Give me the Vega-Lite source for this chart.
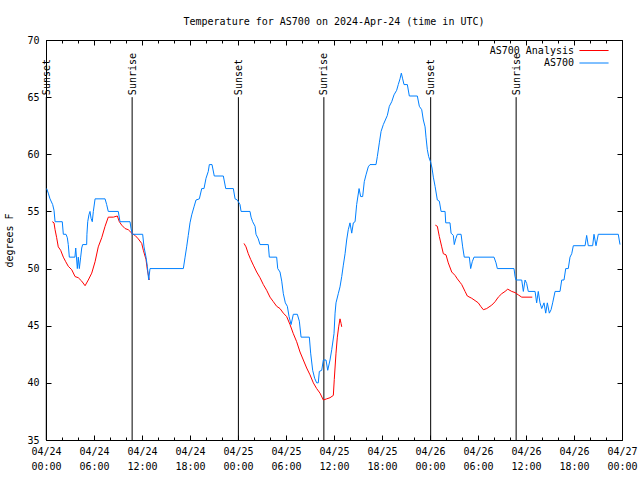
{
"$schema": "https://vega.github.io/schema/vega-lite/v6.json",
"width": 576, "height": 400,
"autosize": {"type": "none"},
"padding": {"left": 46, "top": 40, "right": 18, "bottom": 40},
"background": "white",
"title": {"text": "Temperature for AS700 on 2024-Apr-24 (time in UTC)", "font": "DejaVu Sans Mono", "fontSize": 10, "fontWeight": "normal", "color": "black", "anchor": "middle", "frame": "group", "baseline": "alphabetic", "offset": 15, "dy": 15},
"config": {
 "font": "DejaVu Sans Mono",
 "view": {"stroke": "black", "strokeWidth": 1},
 "axis": {"labelFont": "DejaVu Sans Mono", "labelFontSize": 10, "labelColor": "black", "tickColor": "black", "tickWidth": 1, "domain": false, "grid": false, "titleFont": "DejaVu Sans Mono", "titleFontSize": 10, "titleFontWeight": "normal", "titleColor": "black"}
},
"datasets": {
"obs": [
{"t":"2024-04-24T00:05:00Z","v":57.0},{"t":"2024-04-24T00:17:00Z","v":56.6},{"t":"2024-04-24T00:30:00Z","v":56.1},{"t":"2024-04-24T00:50:00Z","v":55.6},{"t":"2024-04-24T01:00:00Z","v":55.1},{"t":"2024-04-24T01:08:00Z","v":54.1},{"t":"2024-04-24T02:02:00Z","v":54.1},{"t":"2024-04-24T02:10:00Z","v":53.0},{"t":"2024-04-24T02:30:00Z","v":53.0},{"t":"2024-04-24T02:40:00Z","v":52.7},{"t":"2024-04-24T02:47:00Z","v":52.1},{"t":"2024-04-24T02:55:00Z","v":51.0},{"t":"2024-04-24T03:37:00Z","v":51.0},{"t":"2024-04-24T03:43:00Z","v":51.8},{"t":"2024-04-24T03:55:00Z","v":50.0},{"t":"2024-04-24T04:02:00Z","v":51.0},{"t":"2024-04-24T04:10:00Z","v":50.0},{"t":"2024-04-24T04:20:00Z","v":51.0},{"t":"2024-04-24T04:28:00Z","v":51.8},{"t":"2024-04-24T04:35:00Z","v":52.1},{"t":"2024-04-24T05:05:00Z","v":52.1},{"t":"2024-04-24T05:07:00Z","v":53.0},{"t":"2024-04-24T05:13:00Z","v":54.1},{"t":"2024-04-24T05:22:00Z","v":54.7},{"t":"2024-04-24T05:30:00Z","v":55.0},{"t":"2024-04-24T05:38:00Z","v":54.4},{"t":"2024-04-24T05:47:00Z","v":54.1},{"t":"2024-04-24T05:55:00Z","v":55.0},{"t":"2024-04-24T06:08:00Z","v":56.1},{"t":"2024-04-24T07:23:00Z","v":56.1},{"t":"2024-04-24T07:35:00Z","v":55.6},{"t":"2024-04-24T07:47:00Z","v":55.0},{"t":"2024-04-24T09:02:00Z","v":55.0},{"t":"2024-04-24T09:15:00Z","v":54.1},{"t":"2024-04-24T10:30:00Z","v":54.1},{"t":"2024-04-24T10:38:00Z","v":53.5},{"t":"2024-04-24T10:47:00Z","v":53.0},{"t":"2024-04-24T12:05:00Z","v":53.0},{"t":"2024-04-24T12:15:00Z","v":51.9},{"t":"2024-04-24T12:30:00Z","v":51.0},{"t":"2024-04-24T12:40:00Z","v":50.2},{"t":"2024-04-24T12:50:00Z","v":49.0},{"t":"2024-04-24T13:00:00Z","v":50.0},{"t":"2024-04-24T17:10:00Z","v":50.0},{"t":"2024-04-24T17:23:00Z","v":51.0},{"t":"2024-04-24T17:35:00Z","v":51.9},{"t":"2024-04-24T17:47:00Z","v":52.9},{"t":"2024-04-24T18:00:00Z","v":54.0},{"t":"2024-04-24T18:13:00Z","v":54.7},{"t":"2024-04-24T18:30:00Z","v":55.4},{"t":"2024-04-24T18:45:00Z","v":56.0},{"t":"2024-04-24T19:10:00Z","v":56.1},{"t":"2024-04-24T19:28:00Z","v":57.0},{"t":"2024-04-24T19:45:00Z","v":57.0},{"t":"2024-04-24T20:00:00Z","v":57.9},{"t":"2024-04-24T20:17:00Z","v":58.5},{"t":"2024-04-24T20:25:00Z","v":59.1},{"t":"2024-04-24T20:45:00Z","v":59.1},{"t":"2024-04-24T21:02:00Z","v":58.1},{"t":"2024-04-24T22:10:00Z","v":58.1},{"t":"2024-04-24T22:28:00Z","v":57.0},{"t":"2024-04-24T23:25:00Z","v":57.0},{"t":"2024-04-24T23:38:00Z","v":56.1},{"t":"2024-04-24T23:55:00Z","v":56.0},
{"t":"2024-04-25T00:15:00Z","v":55.6},{"t":"2024-04-25T00:23:00Z","v":55.0},{"t":"2024-04-25T01:30:00Z","v":55.0},{"t":"2024-04-25T01:38:00Z","v":54.5},{"t":"2024-04-25T01:50:00Z","v":54.1},{"t":"2024-04-25T02:08:00Z","v":53.7},{"t":"2024-04-25T02:15:00Z","v":53.0},{"t":"2024-04-25T02:32:00Z","v":52.6},{"t":"2024-04-25T02:45:00Z","v":52.1},{"t":"2024-04-25T03:47:00Z","v":52.1},{"t":"2024-04-25T03:55:00Z","v":51.0},{"t":"2024-04-25T04:50:00Z","v":51.0},{"t":"2024-04-25T04:58:00Z","v":50.0},{"t":"2024-04-25T05:15:00Z","v":49.7},{"t":"2024-04-25T05:28:00Z","v":48.9},{"t":"2024-04-25T05:40:00Z","v":47.8},{"t":"2024-04-25T05:55:00Z","v":47.0},{"t":"2024-04-25T06:10:00Z","v":46.7},{"t":"2024-04-25T06:23:00Z","v":45.8},{"t":"2024-04-25T06:38:00Z","v":45.1},{"t":"2024-04-25T06:55:00Z","v":46.0},{"t":"2024-04-25T07:25:00Z","v":46.0},{"t":"2024-04-25T07:40:00Z","v":45.4},{"t":"2024-04-25T07:53:00Z","v":44.0},{"t":"2024-04-25T08:55:00Z","v":44.0},{"t":"2024-04-25T09:05:00Z","v":42.6},{"t":"2024-04-25T09:20:00Z","v":41.1},{"t":"2024-04-25T09:35:00Z","v":40.4},{"t":"2024-04-25T09:50:00Z","v":40.0},{"t":"2024-04-25T10:02:00Z","v":40.0},{"t":"2024-04-25T10:10:00Z","v":41.0},{"t":"2024-04-25T10:28:00Z","v":41.1},{"t":"2024-04-25T10:40:00Z","v":42.0},{"t":"2024-04-25T11:00:00Z","v":42.0},{"t":"2024-04-25T11:13:00Z","v":41.1},{"t":"2024-04-25T11:30:00Z","v":42.0},{"t":"2024-04-25T11:43:00Z","v":42.9},{"t":"2024-04-25T12:00:00Z","v":44.3},{"t":"2024-04-25T12:08:00Z","v":46.1},{"t":"2024-04-25T12:15:00Z","v":47.0},{"t":"2024-04-25T12:32:00Z","v":47.8},{"t":"2024-04-25T12:45:00Z","v":48.4},{"t":"2024-04-25T12:58:00Z","v":49.3},{"t":"2024-04-25T13:10:00Z","v":50.3},{"t":"2024-04-25T13:23:00Z","v":51.3},{"t":"2024-04-25T13:35:00Z","v":52.5},{"t":"2024-04-25T13:47:00Z","v":53.4},{"t":"2024-04-25T14:00:00Z","v":54.0},{"t":"2024-04-25T14:13:00Z","v":53.1},{"t":"2024-04-25T14:25:00Z","v":54.0},{"t":"2024-04-25T14:38:00Z","v":54.1},{"t":"2024-04-25T14:50:00Z","v":55.6},{"t":"2024-04-25T15:08:00Z","v":57.0},{"t":"2024-04-25T15:20:00Z","v":56.3},{"t":"2024-04-25T15:35:00Z","v":56.3},{"t":"2024-04-25T15:47:00Z","v":57.6},{"t":"2024-04-25T16:00:00Z","v":58.2},{"t":"2024-04-25T16:17:00Z","v":58.9},{"t":"2024-04-25T16:30:00Z","v":59.1},{"t":"2024-04-25T17:15:00Z","v":59.1},{"t":"2024-04-25T17:25:00Z","v":59.8},{"t":"2024-04-25T17:40:00Z","v":61.0},{"t":"2024-04-25T17:53:00Z","v":62.0},{"t":"2024-04-25T18:10:00Z","v":62.6},{"t":"2024-04-25T18:25:00Z","v":63.0},{"t":"2024-04-25T18:40:00Z","v":63.4},{"t":"2024-04-25T18:55:00Z","v":64.2},{"t":"2024-04-25T19:13:00Z","v":64.6},{"t":"2024-04-25T19:30:00Z","v":65.2},{"t":"2024-04-25T19:50:00Z","v":65.6},{"t":"2024-04-25T20:02:00Z","v":66.1},{"t":"2024-04-25T20:15:00Z","v":66.6},{"t":"2024-04-25T20:25:00Z","v":67.1},{"t":"2024-04-25T20:35:00Z","v":66.6},{"t":"2024-04-25T20:45:00Z","v":66.1},{"t":"2024-04-25T21:10:00Z","v":66.1},{"t":"2024-04-25T21:25:00Z","v":65.1},{"t":"2024-04-25T22:25:00Z","v":65.1},{"t":"2024-04-25T22:40:00Z","v":64.2},{"t":"2024-04-25T22:58:00Z","v":63.9},{"t":"2024-04-25T23:10:00Z","v":63.0},{"t":"2024-04-25T23:23:00Z","v":62.4},{"t":"2024-04-25T23:30:00Z","v":61.5},{"t":"2024-04-25T23:40:00Z","v":60.4},{"t":"2024-04-25T23:50:00Z","v":59.8},
{"t":"2024-04-26T00:05:00Z","v":59.3},{"t":"2024-04-26T00:15:00Z","v":58.8},{"t":"2024-04-26T00:25:00Z","v":58.0},{"t":"2024-04-26T00:38:00Z","v":57.2},{"t":"2024-04-26T00:55:00Z","v":56.0},{"t":"2024-04-26T01:10:00Z","v":55.9},{"t":"2024-04-26T01:23:00Z","v":55.0},{"t":"2024-04-26T01:53:00Z","v":55.0},{"t":"2024-04-26T01:58:00Z","v":54.0},{"t":"2024-04-26T02:30:00Z","v":54.0},{"t":"2024-04-26T02:38:00Z","v":53.1},{"t":"2024-04-26T02:55:00Z","v":52.9},{"t":"2024-04-26T03:02:00Z","v":52.1},{"t":"2024-04-26T03:13:00Z","v":52.6},{"t":"2024-04-26T03:25:00Z","v":53.0},{"t":"2024-04-26T03:53:00Z","v":53.0},{"t":"2024-04-26T04:05:00Z","v":51.9},{"t":"2024-04-26T04:17:00Z","v":51.0},{"t":"2024-04-26T04:55:00Z","v":51.0},{"t":"2024-04-26T05:05:00Z","v":50.0},{"t":"2024-04-26T05:17:00Z","v":50.6},{"t":"2024-04-26T05:30:00Z","v":51.0},{"t":"2024-04-26T08:00:00Z","v":51.0},{"t":"2024-04-26T08:15:00Z","v":50.5},{"t":"2024-04-26T08:25:00Z","v":50.0},{"t":"2024-04-26T10:30:00Z","v":50.0},{"t":"2024-04-26T10:38:00Z","v":49.3},{"t":"2024-04-26T10:45:00Z","v":49.0},{"t":"2024-04-26T11:28:00Z","v":49.0},{"t":"2024-04-26T11:40:00Z","v":48.0},{"t":"2024-04-26T11:53:00Z","v":49.0},{"t":"2024-04-26T12:05:00Z","v":48.7},{"t":"2024-04-26T12:17:00Z","v":48.0},{"t":"2024-04-26T13:08:00Z","v":48.0},{"t":"2024-04-26T13:20:00Z","v":47.0},{"t":"2024-04-26T13:32:00Z","v":48.0},{"t":"2024-04-26T13:45:00Z","v":47.0},{"t":"2024-04-26T13:58:00Z","v":46.5},{"t":"2024-04-26T14:15:00Z","v":47.0},{"t":"2024-04-26T14:28:00Z","v":46.1},{"t":"2024-04-26T14:40:00Z","v":47.0},{"t":"2024-04-26T14:55:00Z","v":46.1},{"t":"2024-04-26T15:08:00Z","v":46.4},{"t":"2024-04-26T15:20:00Z","v":47.0},{"t":"2024-04-26T15:38:00Z","v":48.0},{"t":"2024-04-26T16:15:00Z","v":48.0},{"t":"2024-04-26T16:28:00Z","v":49.0},{"t":"2024-04-26T16:45:00Z","v":49.0},{"t":"2024-04-26T16:58:00Z","v":50.0},{"t":"2024-04-26T17:17:00Z","v":50.0},{"t":"2024-04-26T17:30:00Z","v":51.0},{"t":"2024-04-26T17:43:00Z","v":51.3},{"t":"2024-04-26T17:55:00Z","v":52.0},{"t":"2024-04-26T19:23:00Z","v":52.0},{"t":"2024-04-26T19:35:00Z","v":52.9},{"t":"2024-04-26T19:47:00Z","v":52.0},{"t":"2024-04-26T20:20:00Z","v":52.0},{"t":"2024-04-26T20:30:00Z","v":53.0},{"t":"2024-04-26T20:45:00Z","v":52.0},{"t":"2024-04-26T21:02:00Z","v":53.0},{"t":"2024-04-26T23:32:00Z","v":53.0},{"t":"2024-04-26T23:45:00Z","v":52.1}
],
"ana": [
{"t":"2024-04-24T00:47:00Z","v":54.1,"g":1},{"t":"2024-04-24T01:00:00Z","v":54.0,"g":1},{"t":"2024-04-24T01:08:00Z","v":53.4,"g":1},{"t":"2024-04-24T01:20:00Z","v":52.7,"g":1},{"t":"2024-04-24T01:32:00Z","v":51.9,"g":1},{"t":"2024-04-24T01:50:00Z","v":51.6,"g":1},{"t":"2024-04-24T02:10:00Z","v":51.0,"g":1},{"t":"2024-04-24T02:28:00Z","v":50.6,"g":1},{"t":"2024-04-24T02:47:00Z","v":50.2,"g":1},{"t":"2024-04-24T03:13:00Z","v":49.9,"g":1},{"t":"2024-04-24T03:38:00Z","v":49.3,"g":1},{"t":"2024-04-24T04:02:00Z","v":49.2,"g":1},{"t":"2024-04-24T04:28:00Z","v":48.9,"g":1},{"t":"2024-04-24T04:53:00Z","v":48.5,"g":1},{"t":"2024-04-24T05:17:00Z","v":49.0,"g":1},{"t":"2024-04-24T05:43:00Z","v":49.6,"g":1},{"t":"2024-04-24T06:08:00Z","v":50.6,"g":1},{"t":"2024-04-24T06:32:00Z","v":51.9,"g":1},{"t":"2024-04-24T06:58:00Z","v":52.7,"g":1},{"t":"2024-04-24T07:23:00Z","v":53.7,"g":1},{"t":"2024-04-24T07:47:00Z","v":54.5,"g":1},{"t":"2024-04-24T08:25:00Z","v":54.5,"g":1},{"t":"2024-04-24T08:55:00Z","v":54.6,"g":1},{"t":"2024-04-24T09:10:00Z","v":54.1,"g":1},{"t":"2024-04-24T09:28:00Z","v":53.8,"g":1},{"t":"2024-04-24T09:53:00Z","v":53.5,"g":1},{"t":"2024-04-24T10:17:00Z","v":53.4,"g":1},{"t":"2024-04-24T10:43:00Z","v":53.1,"g":1},{"t":"2024-04-24T11:08:00Z","v":52.9,"g":1},{"t":"2024-04-24T11:32:00Z","v":52.6,"g":1},{"t":"2024-04-24T11:58:00Z","v":52.2,"g":1},{"t":"2024-04-24T12:10:00Z","v":51.6,"g":1},{"t":"2024-04-24T12:30:00Z","v":50.8,"g":1},{"t":"2024-04-24T12:40:00Z","v":49.9,"g":1},{"t":"2024-04-24T12:50:00Z","v":49.3,"g":1},{"t":"2024-04-24T12:55:00Z","v":49.0,"g":1},
{"t":"2024-04-25T00:45:00Z","v":52.2,"g":2},{"t":"2024-04-25T01:00:00Z","v":51.9,"g":2},{"t":"2024-04-25T01:17:00Z","v":51.3,"g":2},{"t":"2024-04-25T01:35:00Z","v":50.8,"g":2},{"t":"2024-04-25T01:55:00Z","v":50.3,"g":2},{"t":"2024-04-25T02:20:00Z","v":49.7,"g":2},{"t":"2024-04-25T02:45:00Z","v":49.2,"g":2},{"t":"2024-04-25T03:10:00Z","v":48.6,"g":2},{"t":"2024-04-25T03:35:00Z","v":48.1,"g":2},{"t":"2024-04-25T04:00:00Z","v":47.5,"g":2},{"t":"2024-04-25T04:25:00Z","v":47.1,"g":2},{"t":"2024-04-25T04:50:00Z","v":46.7,"g":2},{"t":"2024-04-25T05:15:00Z","v":46.5,"g":2},{"t":"2024-04-25T05:40:00Z","v":46.1,"g":2},{"t":"2024-04-25T06:05:00Z","v":45.8,"g":2},{"t":"2024-04-25T06:30:00Z","v":45.1,"g":2},{"t":"2024-04-25T06:55:00Z","v":44.3,"g":2},{"t":"2024-04-25T07:20:00Z","v":43.6,"g":2},{"t":"2024-04-25T07:45:00Z","v":42.7,"g":2},{"t":"2024-04-25T08:10:00Z","v":42.0,"g":2},{"t":"2024-04-25T08:35:00Z","v":41.3,"g":2},{"t":"2024-04-25T09:00:00Z","v":40.7,"g":2},{"t":"2024-04-25T09:25:00Z","v":40.0,"g":2},{"t":"2024-04-25T09:50:00Z","v":39.5,"g":2},{"t":"2024-04-25T10:15:00Z","v":39.1,"g":2},{"t":"2024-04-25T10:40:00Z","v":38.5,"g":2},{"t":"2024-04-25T11:05:00Z","v":38.6,"g":2},{"t":"2024-04-25T11:30:00Z","v":38.7,"g":2},{"t":"2024-04-25T11:55:00Z","v":38.9,"g":2},{"t":"2024-04-25T12:02:00Z","v":40.3,"g":2},{"t":"2024-04-25T12:15:00Z","v":42.6,"g":2},{"t":"2024-04-25T12:25:00Z","v":44.0,"g":2},{"t":"2024-04-25T12:35:00Z","v":44.9,"g":2},{"t":"2024-04-25T12:45:00Z","v":45.6,"g":2},{"t":"2024-04-25T12:53:00Z","v":45.2,"g":2},{"t":"2024-04-25T12:58:00Z","v":44.9,"g":2},
{"t":"2024-04-26T00:40:00Z","v":53.8,"g":3},{"t":"2024-04-26T00:55:00Z","v":53.7,"g":3},{"t":"2024-04-26T01:10:00Z","v":52.8,"g":3},{"t":"2024-04-26T01:28:00Z","v":51.9,"g":3},{"t":"2024-04-26T01:40:00Z","v":51.3,"g":3},{"t":"2024-04-26T02:00:00Z","v":51.2,"g":3},{"t":"2024-04-26T02:17:00Z","v":50.5,"g":3},{"t":"2024-04-26T02:43:00Z","v":49.7,"g":3},{"t":"2024-04-26T03:08:00Z","v":49.4,"g":3},{"t":"2024-04-26T03:25:00Z","v":49.1,"g":3},{"t":"2024-04-26T03:45:00Z","v":48.8,"g":3},{"t":"2024-04-26T03:58:00Z","v":48.6,"g":3},{"t":"2024-04-26T04:23:00Z","v":48.0,"g":3},{"t":"2024-04-26T04:40:00Z","v":47.6,"g":3},{"t":"2024-04-26T05:13:00Z","v":47.4,"g":3},{"t":"2024-04-26T05:38:00Z","v":47.2,"g":3},{"t":"2024-04-26T06:02:00Z","v":47.0,"g":3},{"t":"2024-04-26T06:20:00Z","v":46.7,"g":3},{"t":"2024-04-26T06:40:00Z","v":46.4,"g":3},{"t":"2024-04-26T07:05:00Z","v":46.5,"g":3},{"t":"2024-04-26T07:43:00Z","v":46.8,"g":3},{"t":"2024-04-26T08:08:00Z","v":47.1,"g":3},{"t":"2024-04-26T08:32:00Z","v":47.5,"g":3},{"t":"2024-04-26T08:58:00Z","v":47.8,"g":3},{"t":"2024-04-26T09:23:00Z","v":48.0,"g":3},{"t":"2024-04-26T09:43:00Z","v":48.2,"g":3},{"t":"2024-04-26T10:13:00Z","v":48.0,"g":3},{"t":"2024-04-26T10:38:00Z","v":47.9,"g":3},{"t":"2024-04-26T11:02:00Z","v":47.7,"g":3},{"t":"2024-04-26T11:28:00Z","v":47.5,"g":3},{"t":"2024-04-26T12:47:00Z","v":47.5,"g":3}
],
"sun": [
{"t":"2024-04-24T00:02:00Z","e":"Sunset"},{"t":"2024-04-24T10:46:00Z","e":"Sunrise"},{"t":"2024-04-25T00:03:00Z","e":"Sunset"},{"t":"2024-04-25T10:44:00Z","e":"Sunrise"},{"t":"2024-04-26T00:05:00Z","e":"Sunset"},{"t":"2024-04-26T10:46:00Z","e":"Sunrise"}
]
},
"layer": [
{
 "data": {"name": "sun"},
 "mark": {"type": "rule", "color": "black", "strokeWidth": 1},
 "encoding": {
  "x": {"field": "t", "type": "temporal", "scale": {"type": "utc", "nice": false, "domain": [1713916800000, 1714176000000]}, "axis": {"orient": "bottom", "values": [1713916800000, 1713924000000, 1713931200000, 1713938400000, 1713945600000, 1713952800000, 1713960000000, 1713967200000, 1713974400000, 1713981600000, 1713988800000, 1713996000000, 1714003200000, 1714010400000, 1714017600000, 1714024800000, 1714032000000, 1714039200000, 1714046400000, 1714053600000, 1714060800000, 1714068000000, 1714075200000, 1714082400000, 1714089600000, 1714096800000, 1714104000000, 1714111200000, 1714118400000, 1714125600000, 1714132800000, 1714140000000, 1714147200000, 1714154400000, 1714161600000, 1714168800000, 1714176000000], "tickSize": -3, "labels": false, "title": null}},
  "y": {"datum": 65, "type": "quantitative", "scale": {"domain": [35, 70], "nice": false, "zero": false}, "axis": null},
  "y2": {"datum": 35}
 }
},
{
 "data": {"name": "sun"},
 "mark": {"type": "text", "angle": 270, "align": "left", "baseline": "middle", "dx": 2, "dy": 0.5, "font": "DejaVu Sans Mono", "fontSize": 10, "color": "black"},
 "encoding": {
  "x": {"field": "t", "type": "temporal", "scale": {"type": "utc", "nice": false, "domain": [1713916800000, 1714176000000]}, "axis": {"orient": "top", "values": [1713916800000, 1713924000000, 1713931200000, 1713938400000, 1713945600000, 1713952800000, 1713960000000, 1713967200000, 1713974400000, 1713981600000, 1713988800000, 1713996000000, 1714003200000, 1714010400000, 1714017600000, 1714024800000, 1714032000000, 1714039200000, 1714046400000, 1714053600000, 1714060800000, 1714068000000, 1714075200000, 1714082400000, 1714089600000, 1714096800000, 1714104000000, 1714111200000, 1714118400000, 1714125600000, 1714132800000, 1714140000000, 1714147200000, 1714154400000, 1714161600000, 1714168800000, 1714176000000], "tickSize": -3, "labels": false, "title": null}},
  "y": {"datum": 65, "type": "quantitative", "scale": {"domain": [35, 70], "nice": false, "zero": false}, "axis": null},
  "text": {"field": "e"}
 }
},
{
 "data": {"name": "ana"},
 "mark": {"type": "line", "strokeWidth": 1},
 "encoding": {
  "x": {"field": "t", "type": "temporal", "scale": {"type": "utc", "nice": false, "domain": [1713916800000, 1714176000000]}, "axis": {"orient": "top", "values": [1713916800000, 1713938400000, 1713960000000, 1713981600000, 1714003200000, 1714024800000, 1714046400000, 1714068000000, 1714089600000, 1714111200000, 1714132800000, 1714154400000, 1714176000000], "tickSize": -5, "labels": false, "title": null}},
  "y": {"field": "v", "type": "quantitative", "scale": {"domain": [35, 70], "nice": false, "zero": false}, "axis": {"orient": "right", "values": [35, 40, 45, 50, 55, 60, 65, 70], "tickSize": -5, "labels": false, "title": null}},
  "detail": {"field": "g"},
  "color": {"datum": "AS700 Analysis", "type": "nominal"}
 }
},
{
 "data": {"name": "obs"},
 "mark": {"type": "line", "strokeWidth": 1},
 "encoding": {
  "x": {"field": "t", "type": "temporal", "scale": {"type": "utc", "nice": false, "domain": [1713916800000, 1714176000000]}, "axis": {"orient": "bottom", "values": [1713916800000, 1713938400000, 1713960000000, 1713981600000, 1714003200000, 1714024800000, 1714046400000, 1714068000000, 1714089600000, 1714111200000, 1714132800000, 1714154400000, 1714176000000], "tickSize": -5, "labelPadding": 11, "labelExpr": "[utcFormat(datum.value, '%m/%d'), utcFormat(datum.value, '%H:%M')]", "labelLineHeight": 15, "labelFlush": false, "labelOverlap": false, "labelBound": false, "title": null}},
  "y": {"field": "v", "type": "quantitative", "scale": {"domain": [35, 70], "nice": false, "zero": false}, "axis": {"orient": "left", "values": [35, 40, 45, 50, 55, 60, 65, 70], "tickSize": -5, "labelPadding": 12, "title": "degrees F", "titlePadding": 12}},
  "color": {"datum": "AS700", "type": "nominal", "scale": {"domain": ["AS700 Analysis", "AS700"], "range": ["#ff0000", "#0080ff"]}, "legend": {"title": null, "orient": "none", "legendX": 543, "legendY": 5.5, "symbolType": "M-5,0H5", "symbolSize": 34, "symbolStrokeWidth": 1, "labelAlign": "right", "labelOffset": -25, "labelFont": "DejaVu Sans Mono", "labelFontSize": 10, "labelColor": "black", "rowPadding": 2.5, "padding": 0}}
 }
}
],
"resolve": {"axis": {"x": "independent", "y": "independent"}}
}
